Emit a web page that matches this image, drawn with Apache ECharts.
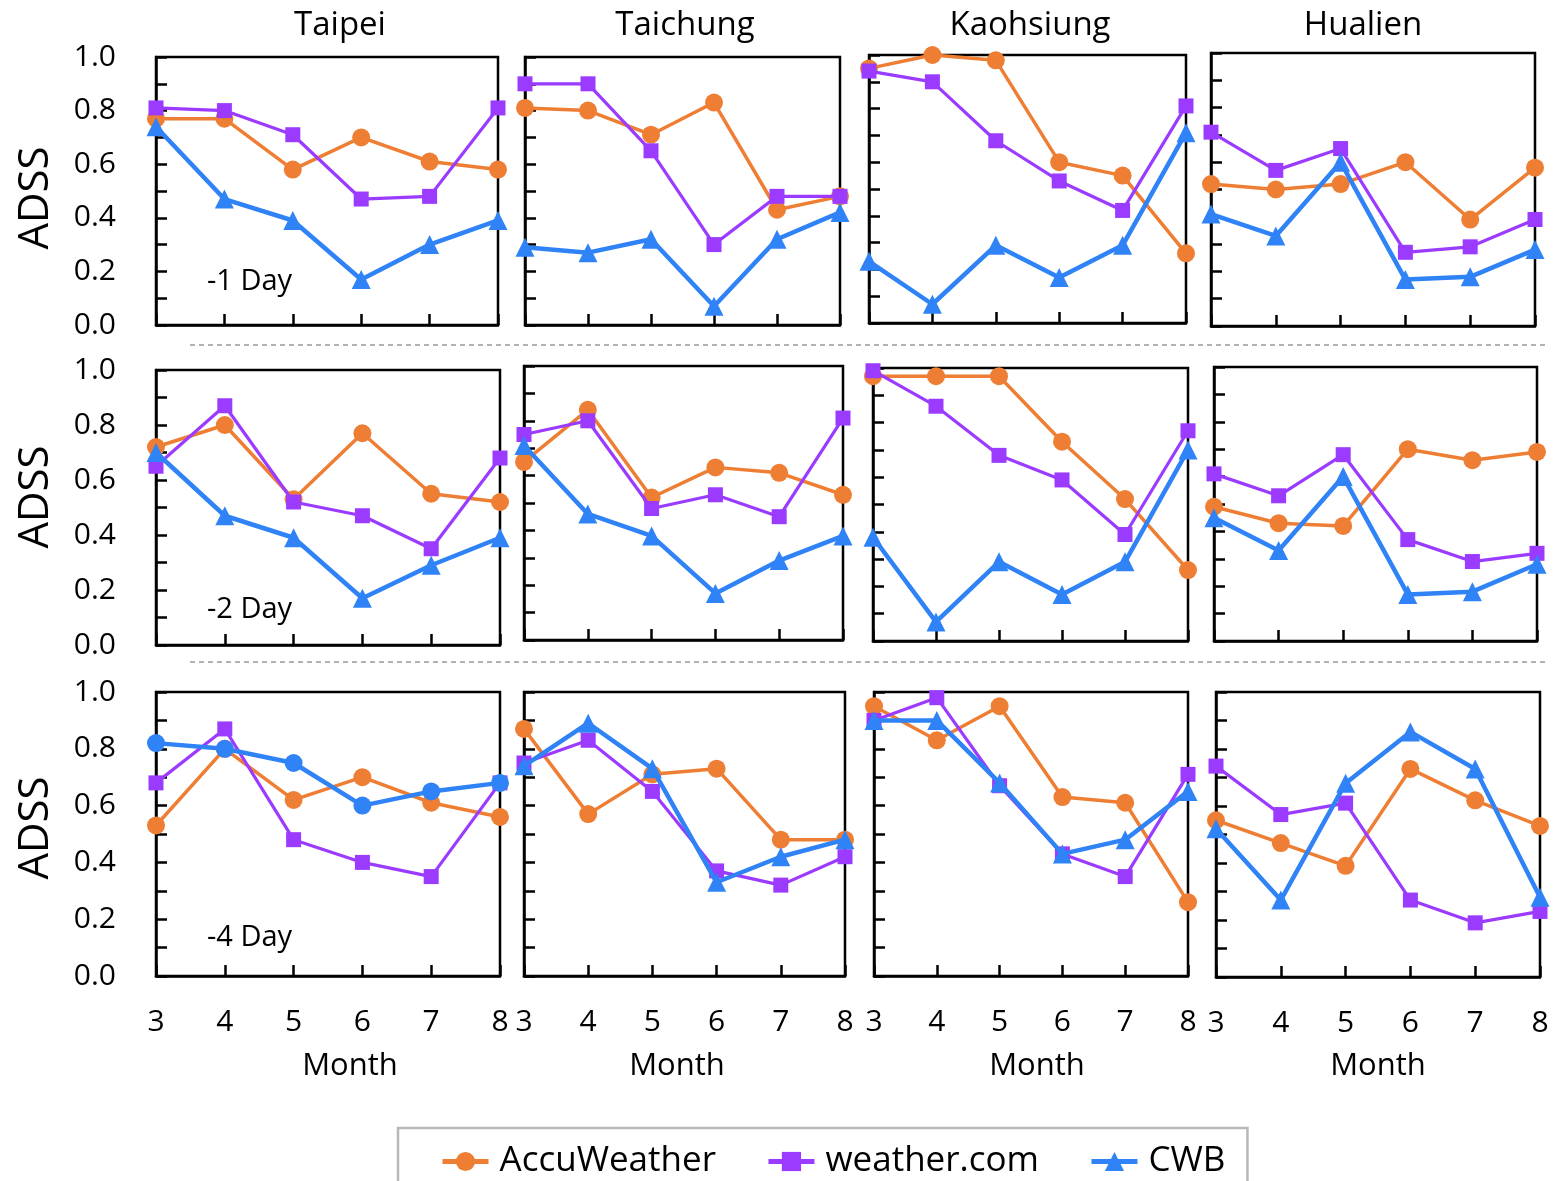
<!DOCTYPE html>
<html><head><meta charset="utf-8">
<script src="https://cdn.jsdelivr.net/npm/echarts@6/dist/echarts.min.js"></script>
<style>html,body{margin:0;padding:0;background:#fff}#c{width:1553px;height:1181px}</style>
</head><body><div id="c"></div>
<script>
// ---------- data ----------
const months = ['3', '4', '5', '6', '7', '8'];
const cities = ['Taipei', 'Taichung', 'Kaohsiung', 'Hualien'];
const leadTimes = ['-1 Day', '-2 Day', '-4 Day'];
const providers = ['AccuWeather', 'weather.com', 'CWB'];

// each array: rows = Taipei, Taichung, Kaohsiung, Hualien; columns = months 3..8
const accuWeather1Day = [
  [0.77, 0.77, 0.58, 0.70, 0.61, 0.58],
  [0.81, 0.80, 0.71, 0.83, 0.43, 0.48],
  [0.95, 1.00, 0.98, 0.60, 0.55, 0.26],
  [0.52, 0.50, 0.52, 0.60, 0.39, 0.58]
];
const weatherCom1Day = [
  [0.81, 0.80, 0.71, 0.47, 0.48, 0.81],
  [0.90, 0.90, 0.65, 0.30, 0.48, 0.48],
  [0.94, 0.90, 0.68, 0.53, 0.42, 0.81],
  [0.71, 0.57, 0.65, 0.27, 0.29, 0.39]
];
const cwb1Day = [
  [0.74, 0.47, 0.39, 0.17, 0.30, 0.39],
  [0.29, 0.27, 0.32, 0.07, 0.32, 0.42],
  [0.23, 0.07, 0.29, 0.17, 0.29, 0.71],
  [0.41, 0.33, 0.60, 0.17, 0.18, 0.28]
];
const accuWeather2Day = [
  [0.72, 0.80, 0.53, 0.77, 0.55, 0.52],
  [0.65, 0.84, 0.52, 0.63, 0.61, 0.53],
  [0.97, 0.97, 0.97, 0.73, 0.52, 0.26],
  [0.49, 0.43, 0.42, 0.70, 0.66, 0.69]
];
const weatherCom2Day = [
  [0.65, 0.87, 0.52, 0.47, 0.35, 0.68],
  [0.75, 0.80, 0.48, 0.53, 0.45, 0.81],
  [0.99, 0.86, 0.68, 0.59, 0.39, 0.77],
  [0.61, 0.53, 0.68, 0.37, 0.29, 0.32]
];
const cwb2Day = [
  [0.70, 0.47, 0.39, 0.17, 0.29, 0.39],
  [0.71, 0.46, 0.38, 0.17, 0.29, 0.38],
  [0.38, 0.07, 0.29, 0.17, 0.29, 0.70],
  [0.45, 0.33, 0.60, 0.17, 0.18, 0.28]
];
const accuWeather4Day = [
  [0.53, 0.80, 0.62, 0.70, 0.61, 0.56],
  [0.87, 0.57, 0.71, 0.73, 0.48, 0.48],
  [0.95, 0.83, 0.95, 0.63, 0.61, 0.26],
  [0.55, 0.47, 0.39, 0.73, 0.62, 0.53]
];
const weatherCom4Day = [
  [0.68, 0.87, 0.48, 0.40, 0.35, 0.68],
  [0.75, 0.83, 0.65, 0.37, 0.32, 0.42],
  [0.90, 0.98, 0.67, 0.43, 0.35, 0.71],
  [0.74, 0.57, 0.61, 0.27, 0.19, 0.23]
];
const cwb4Day = [
  [0.82, 0.80, 0.75, 0.60, 0.65, 0.68],
  [0.74, 0.89, 0.73, 0.33, 0.42, 0.48],
  [0.90, 0.90, 0.68, 0.43, 0.48, 0.65],
  [0.52, 0.27, 0.68, 0.86, 0.73, 0.28]
];

const table = [
  [accuWeather1Day, weatherCom1Day, cwb1Day],
  [accuWeather2Day, weatherCom2Day, cwb2Day],
  [accuWeather4Day, weatherCom4Day, cwb4Day]
];

// ---------- layout / style ----------
const FONT = '"Open Sans", Lato, sans-serif';
const layout = [
  [[156, 57, 342, 268], [525, 57, 315, 268], [869, 55, 317, 268], [1211, 53, 324, 273]],
  [[156, 370, 344, 275], [524, 366, 319, 274], [873, 368, 315, 273], [1214, 367, 323, 274]],
  [[156, 692, 344, 284], [524, 692, 321, 284], [874, 692, 314, 284], [1216, 692, 324, 285]]
];
const styles = [
  { color: '#EE7E33', symbol: 'circle', size: 18, width: 3.5 },
  { color: '#9B3BFF', symbol: 'rect', size: 15, width: 3.2 },
  { color: '#2F83F6', symbol: 'triangle', size: 19, width: 4.5 }
];

const grid = [], xAxis = [], yAxis = [], series = [];
let gi = 0;
for (let r = 0; r < 3; r++) {
  for (let c = 0; c < 4; c++) {
    const [l, t, w, h] = layout[r][c];
    grid.push({ left: l, top: t, width: w, height: h, show: true, borderColor: '#000', borderWidth: 2.5, containLabel: false });
    xAxis.push({
      gridIndex: gi, type: 'category', data: months, boundaryGap: false,
      axisLine: { show: true, lineStyle: { color: '#000', width: 2.5 } },
      axisTick: { show: true, inside: true, length: 11, lineStyle: { color: '#000', width: 2.5 } },
      axisLabel: { show: r === 2, fontSize: 30, color: '#000', margin: 31, fontFamily: FONT },
      splitLine: { show: false }
    });
    yAxis.push({
      gridIndex: gi, type: 'value', min: 0, max: 1, interval: 0.1,
      axisLine: { show: true, lineStyle: { color: '#000', width: 2.5 } },
      axisTick: { show: true, inside: true, length: 11, lineStyle: { color: '#000', width: 2.5 } },
      axisLabel: {
        show: c === 0, fontSize: 30, color: '#000', margin: 40, fontFamily: FONT,
        formatter: v => (Math.round(v * 10) % 2 === 0 ? v.toFixed(1) : '')
      },
      splitLine: { show: false }
    });
    for (let p = 0; p < 3; p++) {
      const s = styles[p];
      const special = (r === 2 && c === 0 && p === 2);
      series.push({
        name: providers[p], type: 'line', xAxisIndex: gi, yAxisIndex: gi,
        data: table[r][p][c], symbol: special ? 'circle' : s.symbol,
        symbolSize: special ? 18 : s.size, clip: false,
        lineStyle: { color: s.color, width: s.width },
        itemStyle: { color: s.color },
        emphasis: { disabled: true }, animation: false, z: 2 + p
      });
    }
    gi++;
  }
}

const titleX = [340, 685, 1030, 1363];
const monthX = [350, 677, 1037, 1378];
const adssY = [198, 497, 828];
const leadY = [282, 610, 938];
const graphic = [];
cities.forEach((name, i) => graphic.push({ type: 'text', x: titleX[i], y: 26, style: { text: name, font: '33px ' + FONT, fill: '#000', textAlign: 'center', textVerticalAlign: 'middle' } }));
monthX.forEach(x => graphic.push({ type: 'text', x: x, y: 1066, style: { text: 'Month', font: '31px ' + FONT, fill: '#000', textAlign: 'center', textVerticalAlign: 'middle' } }));
adssY.forEach(y => graphic.push({ type: 'text', x: 36, y: y, rotation: Math.PI / 2, style: { text: 'ADSS', font: '42px ' + FONT, fill: '#000', textAlign: 'center', textVerticalAlign: 'middle' } }));
leadTimes.forEach((t, i) => graphic.push({ type: 'text', x: 207, y: leadY[i], style: { text: t, font: '29px ' + FONT, fill: '#000', textAlign: 'left', textVerticalAlign: 'middle' } }));
[345, 662].forEach(y => graphic.push({ type: 'line', shape: { x1: 190, y1: y, x2: 1545, y2: y }, style: { stroke: '#9a9a9a', lineWidth: 1.5, lineDash: [5, 4] } }));

const chart = echarts.init(document.getElementById('c'), null, { renderer: 'canvas' });
chart.setOption({
  backgroundColor: '#fff',
  animation: false,
  grid, xAxis, yAxis, series, graphic,
  legend: {
    data: providers, left: 398, top: 1128, orient: 'horizontal',
    borderColor: '#b8b8b8', borderWidth: 2.5, padding: [16, 22, 40, 42],
    itemGap: 50, itemWidth: 46, itemHeight: 24,
    lineStyle: { width: 5 },
    textStyle: { fontSize: 35, color: '#000', fontFamily: FONT, padding: [0, 0, 0, 6] },
    selectedMode: false
  }
});
</script>
</body></html>
